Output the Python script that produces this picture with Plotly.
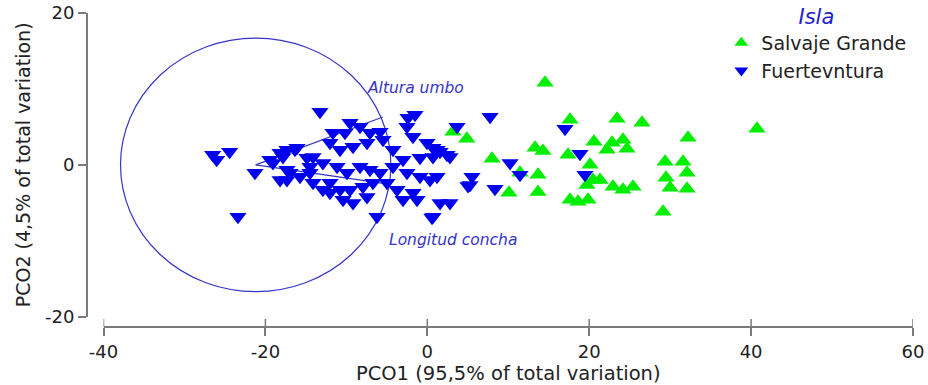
import plotly.graph_objects as go

# ---- data ----
salvaje_x = [14.54, 17.63, 23.43, 26.52, 3.16, 4.88, 13.31, 14.29, 17.38, 20.59, 22.82, 24.17,
             22.20, 24.67, 7.99, 20.10, 11.45, 13.68, 20.47, 21.33, 22.94, 24.17, 25.41, 19.73,
             10.09, 13.68, 17.63, 18.62, 19.85, 29.37, 29.49, 29.99, 29.12, 40.73, 32.21, 31.59,
             32.08, 32.08]
salvaje_y = [10.80, 5.93, 6.06, 5.53, 4.35, 3.43, 2.24, 1.84, 1.32, 3.03, 2.90, 3.29,
             1.98, 2.11, 0.79, 0.0, -1.05, -1.32, -1.98, -1.98, -2.90, -3.29, -2.90, -2.64,
             -3.69, -3.56, -4.61, -4.87, -4.61, 0.40, -1.71, -3.03, -6.19, 4.74, 3.56, 0.40,
             -1.05, -3.16]

fuerte_x = [7.75, 3.67, 17.01, 18.86, 10.22, 11.45, 19.48, 5.52, 5.03, 8.36, 1.20, 0.70,
            1.57, 2.43, 2.80, 1.57, 2.80, 0.70,
            -13.26, -9.55, -8.32, -11.65, -10.17, -7.08, -5.84, -2.38, -1.52, -1.77, -2.51,
            -0.04, 1.20, 5.27, -17.34, -16.10, -14.12, -12.02, -10.78, -9.18, -7.45, -5.47,
            -4.24, -3.00, -0.90, 0.70, -17.34, -15.73, -14.49, -12.90, -11.15, -9.92, -8.31,
            -7.08, -5.84, -4.24, -2.51, -0.90, 0.33, -12.02, -10.78, -9.55, -7.95, -6.71,
            -4.98, -3.74, -1.76, -10.41, -9.18, -7.45, -3.00, -1.27, -6.22, 0.58, -12.90,
            -14.12,
            -21.29, -19.07, -17.83, -16.35, -14.86, -18.19, -16.96, -14.49, -12.02,
            -26.02, -24.42, -26.51, -23.39, -19.44, -18.19, -17.34]
fuerte_y = [6.32, 5.01, 4.74, 1.45, 0.26, -1.32, -1.32, -1.58, -2.77, -3.16, -1.58, 2.24,
            1.71, 1.32, 1.05, -5.01, -5.01, -6.85,
            6.98, 5.53, 5.01, 4.22, 4.22, 4.22, 4.35, 6.19, 6.59, 3.69, 5.01,
            2.90, 1.98, -2.64, 1.98, 2.24, 1.05, 2.90, 1.98, 2.37, 2.90, 3.29,
            1.98, 0.66, 0.92, 1.05, -0.66, -1.58, -0.26, 0.26, -0.26, -1.05, -0.26,
            -0.66, -1.05, -0.26, -1.05, -1.58, -1.98, -2.37, -3.29, -3.29, -2.90, -2.37,
            -2.37, -3.29, -3.69, -4.61, -5.01, -4.22, -4.61, -4.61, -6.85, -6.98, -3.29,
            -2.37,
            -1.05, 0.26, 1.05, 1.98, 0.92, -1.98, -1.05, -1.05, -3.69,
            0.66, 1.71, 1.32, -6.85, 0.66, 1.58, -1.98]

vector_names = ["Altura umbo", "Longitud concha"]
vector_dx = [15.7, 16.2]
vector_dy = [6.3, -2.5]
label_x = [-1.45, 3.2]
label_y = [10.1, -9.9]
circle_center = (-21.2, 0.0)
circle_radius = 16.7

x_ticks = [-40, -20, 0, 20, 40, 60]
y_ticks = [-20, 0, 20]

BLUE = "#0000ee"
GREEN = "#00ee00"
LINE_BLUE = "#3434c8"
AXIS_GRAY = "#7a7a7a"
FONT = "DejaVu Sans, Verdana, sans-serif"
TXT = "#222222"

fig = go.Figure()
fig.add_trace(go.Scatter(x=salvaje_x, y=salvaje_y, mode="markers", name="Salvaje Grande",
                         marker=dict(symbol="triangle-up", size=15, color=GREEN, line=dict(width=0))))
fig.add_trace(go.Scatter(x=fuerte_x, y=fuerte_y, mode="markers", name="Fuertevntura",
                         marker=dict(symbol="triangle-down", size=15, color=BLUE, line=dict(width=0))))

cx, cy = circle_center
fig.add_shape(type="circle", xref="x", yref="y",
              x0=cx - circle_radius, x1=cx + circle_radius,
              y0=cy - circle_radius, y1=cy + circle_radius,
              line=dict(color=LINE_BLUE, width=1.2), layer="below")
for name, dx, dy, lx, ly in zip(vector_names, vector_dx, vector_dy, label_x, label_y):
    fig.add_shape(type="line", xref="x", yref="y", x0=cx, y0=cy, x1=cx + dx, y1=cy + dy,
                  line=dict(color=LINE_BLUE, width=1.2), layer="below")
    fig.add_annotation(x=lx, y=ly, xref="x", yref="y", text=name, showarrow=False,
                       font=dict(family=FONT, size=15.5, color=LINE_BLUE, style="italic"))

W, H = 928, 385
ml, mr, mt, mb = 87, 15, 13, 58
pw = W - ml - mr
ph = H - mt - mb
xdom0 = (103.5 - ml) / pw
ydom0 = (327 - 316.7) / ph

# x-axis ticks cross the axis line: add the upper halves
for v in x_ticks:
    fig.add_shape(type="line", xref="x", yref="paper", x0=v, x1=v, y0=0, y1=8 / ph,
                  line=dict(color=AXIS_GRAY, width=1.5))

fig.update_layout(
    width=W, height=H,
    margin=dict(l=ml, r=mr, t=mt, b=mb, autoexpand=False),
    paper_bgcolor="white", plot_bgcolor="white",
    showlegend=True,
    legend=dict(x=0.768, y=1.052, xanchor="left", yanchor="top",
                bgcolor="rgba(0,0,0,0)",
                font=dict(family=FONT, size=19, color=TXT),
                title=dict(text="Isla", side="top center",
                           font=dict(family=FONT, size=21, color="#2222cc", style="italic")),
                itemsizing="constant", tracegroupgap=0),
    xaxis=dict(range=[-40, 60], domain=[xdom0, 1], anchor="free", position=0, automargin=False,
               tickvals=x_ticks, ticktext=[str(v) for v in x_ticks],
               ticks="outside", ticklen=8, tickwidth=1.5, tickcolor=AXIS_GRAY,
               showline=True, linecolor=AXIS_GRAY, linewidth=2,
               showgrid=False, zeroline=False,
               tickfont=dict(family=FONT, size=18, color=TXT),
               title=dict(text="PCO1 (95,5% of total variation)", standoff=2,
                          font=dict(family=FONT, size=19.5, color=TXT))),
    yaxis=dict(range=[-20, 20], domain=[ydom0, 1], anchor="free", position=0, automargin=False,
               tickvals=y_ticks, ticktext=[str(v) for v in y_ticks],
               ticks="outside", ticklen=8, tickwidth=1.5, tickcolor=AXIS_GRAY,
               showline=True, linecolor=AXIS_GRAY, linewidth=2,
               showgrid=False, zeroline=False,
               tickfont=dict(family=FONT, size=18, color=TXT),
               title=dict(text="PCO2 (4,5% of total variation)", standoff=8,
                          font=dict(family=FONT, size=19, color=TXT))),
)

fig.write_html("out.html", config={"displayModeBar": False},
               post_script="document.body.style.margin='0';")
